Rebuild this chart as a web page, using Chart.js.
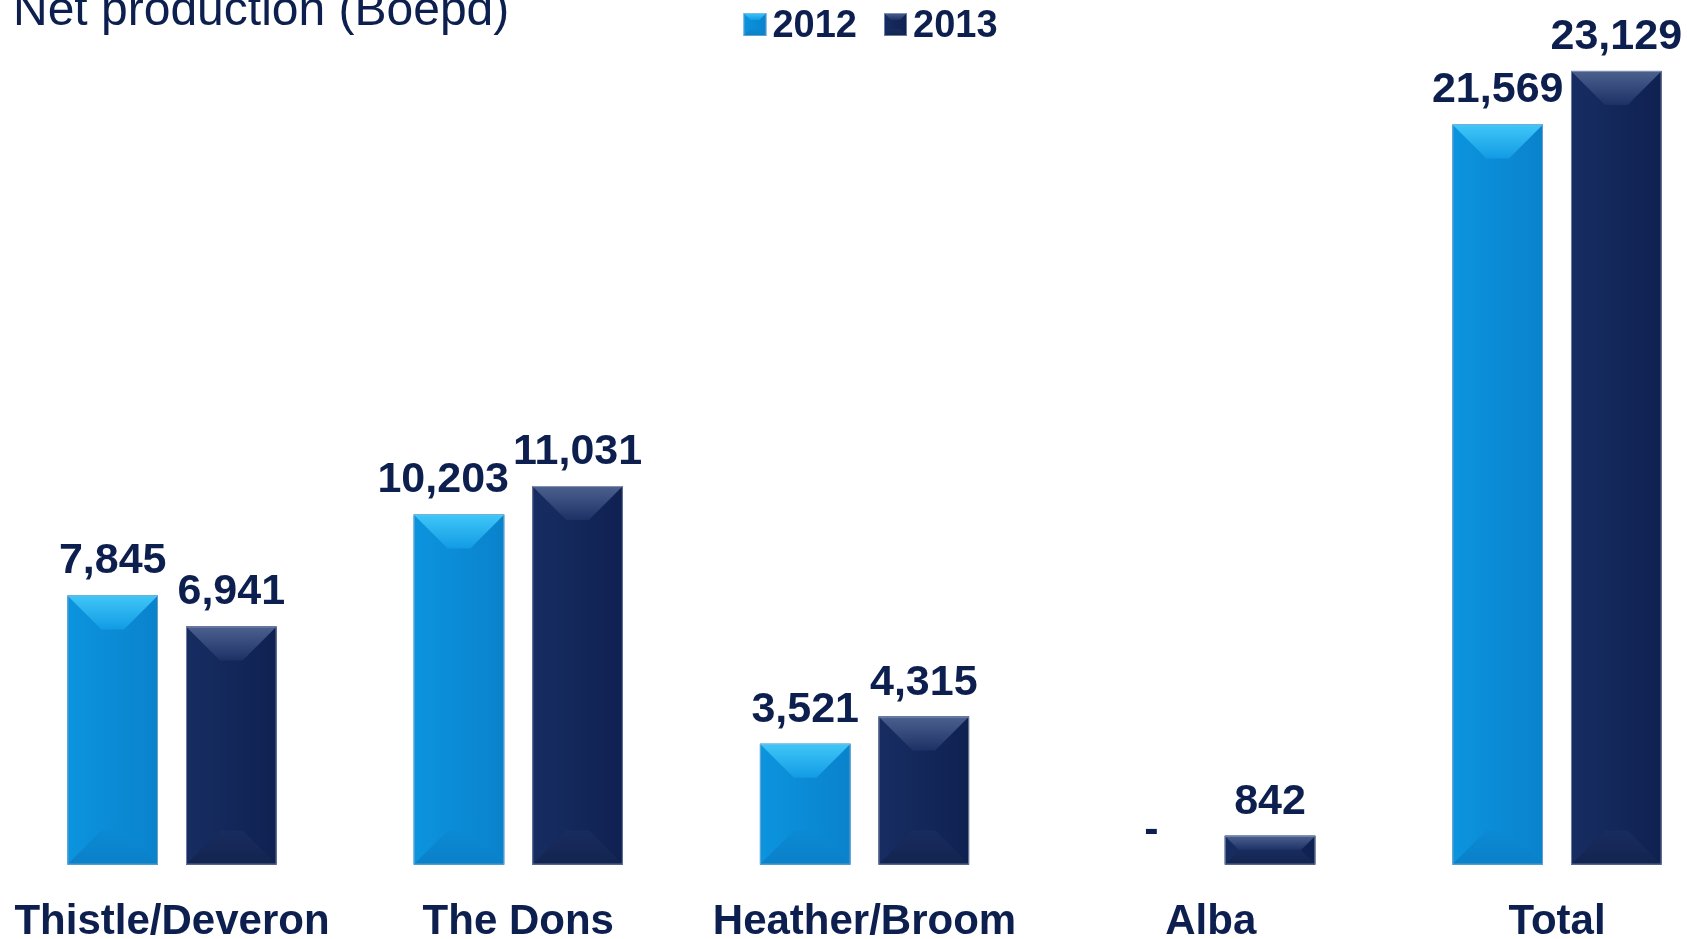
<!DOCTYPE html>
<html>
<head>
<meta charset="utf-8">
<script src="https://cdn.jsdelivr.net/npm/chart.js@4.4.1/dist/chart.umd.min.js"></script>
<style>
  html, body { margin: 0; padding: 0; background: #fff; overflow: hidden; }
  #wrap { position: relative; width: 1687px; height: 939px; }
  #title {
    position: absolute; left: 13px; top: -15px;
    font: 48px "Liberation Sans", Arial, sans-serif; line-height: 48px;
    color: #0d1f4e; white-space: nowrap;
  }
</style>
</head>
<body>
<div id="wrap">
  <canvas id="prodChart"></canvas>
  <div id="title">Net production (Boepd)</div>
</div>
<script>
// --- data ---
const fields = ['Thistle/Deveron', 'The Dons', 'Heather/Broom', 'Alba', 'Total'];
const prod2012 = [7845, 10203, 3521, 0, 21569];
const prod2013 = [6941, 11031, 4315, 842, 23129];

const navy = '#0d1f4e';
const fontFam = '"Liberation Sans", Arial, sans-serif';

// colours for the bevelled bars
const bevel = {
    '2012': { main: '#0b8ad6', faceL: '#0c94de', faceR: '#0a82cc',
              topA: '#40c7f8', topB: '#129be4', botA: '#0b8ad4', botB: '#0a80c8' },
    '2013': { main: '#13275a', faceL: '#172d62', faceR: '#0f2151',
              topA: '#4d6190', topB: '#1d3165', botA: '#182c5e', botB: '#12244f' }
};

function fmt(v) {
    return v === 0 ? '-' : v.toLocaleString('en-US');
}

function drawBevel(ctx, c, L, T, R, B, depth) {
    const h = B - T;
    const d = Math.min(depth, h / 2, (R - L) / 2);
    const poly = (pts, fill) => {
        ctx.beginPath();
        ctx.moveTo(pts[0][0], pts[0][1]);
        for (let i = 1; i < pts.length; i++) ctx.lineTo(pts[i][0], pts[i][1]);
        ctx.closePath();
        ctx.fillStyle = fill;
        ctx.fill();
    };
    ctx.save();
    let g = ctx.createLinearGradient(L, 0, R, 0);
    g.addColorStop(0, c.faceL);
    g.addColorStop(1, c.faceR);
    ctx.fillStyle = g;
    ctx.fillRect(L, T, R - L, h);
    g = ctx.createLinearGradient(0, T, 0, T + d);
    g.addColorStop(0, c.topA);
    g.addColorStop(1, c.topB);
    poly([[L, T], [R, T], [R - d, T + d], [L + d, T + d]], g);
    g = ctx.createLinearGradient(0, B - d, 0, B);
    g.addColorStop(0, c.botA);
    g.addColorStop(1, c.botB);
    poly([[L, B], [R, B], [R - d, B - d], [L + d, B - d]], g);
    ctx.strokeStyle = 'rgba(165,180,205,0.6)';
    ctx.lineWidth = 1;
    ctx.strokeRect(L + 0.5, T + 0.5, R - L - 1, h - 1);
    ctx.restore();
}

// draws the 3D bevel look on top of the plain bars
const bevelPlugin = {
    id: 'bevel',
    afterDatasetsDraw(chart) {
        chart.data.datasets.forEach((ds, di) => {
            const c = bevel[ds.label];
            chart.getDatasetMeta(di).data.forEach(bar => {
                if (bar.base - bar.y <= 0.5) return;
                drawBevel(chart.ctx, c, bar.x - bar.width / 2, bar.y, bar.x + bar.width / 2, bar.base, 34);
            });
        });
    }
};

// legend drawn by hand so the box/text spacing matches
const legendPlugin = {
    id: 'miniLegend',
    afterDraw(chart) {
        const ctx = chart.ctx;
        const area = chart.chartArea;
        ctx.save();
        ctx.font = 'bold 38px ' + fontFam;
        ctx.textBaseline = 'alphabetic';
        ctx.textAlign = 'left';
        const box = 23, gap = 6, itemGap = 27;
        const items = chart.data.datasets.map(ds => ({ label: ds.label, w: ctx.measureText(ds.label).width }));
        const total = items.reduce((s, it) => s + box + gap + it.w, 0) + itemGap * (items.length - 1);
        let x = (area.left + area.right) / 2 - total / 2 + 6;
        items.forEach(it => {
            drawBevel(ctx, bevel[it.label], x, 13, x + box, 13 + box, 7);
            ctx.fillStyle = navy;
            ctx.fillText(it.label, x + box + gap, 37);
            x += box + gap + it.w + itemGap;
        });
        ctx.restore();
    }
};

// value labels above each bar
const valueLabels = {
    id: 'valueLabels',
    afterDraw(chart) {
        const ctx = chart.ctx;
        ctx.save();
        ctx.font = 'bold 43px ' + fontFam;
        ctx.fillStyle = navy;
        ctx.textAlign = 'center';
        ctx.textBaseline = 'alphabetic';
        const m0 = chart.getDatasetMeta(0).data;
        const m1 = chart.getDatasetMeta(1).data;
        m0.forEach((b0, i) => {
            const b1 = m1[i];
            const t0 = fmt(prod2012[i]), t1 = fmt(prod2013[i]);
            const w0 = ctx.measureText(t0).width, w1 = ctx.measureText(t1).width;
            const y0 = b0.y - 22, y1 = b1.y - 22;
            let x0 = b0.x;
            // nudge the 2012 label left if it would run into the 2013 one
            const overlap = (x0 + w0 / 2) - (b1.x - w1 / 2) + 4;
            if (overlap > 0 && Math.abs(y0 - y1) < 45) x0 -= overlap;
            ctx.fillText(t0, x0, y0);
            ctx.fillText(t1, b1.x, y1);
        });
        ctx.restore();
    }
};

new Chart(document.getElementById('prodChart'), {
    type: 'bar',
    data: {
        labels: fields,
        datasets: [
            { label: '2012', data: prod2012, backgroundColor: bevel['2012'].main },
            { label: '2013', data: prod2013, backgroundColor: bevel['2013'].main }
        ]
    },
    options: {
        responsive: true,
        maintainAspectRatio: false,
        animation: false,
        events: [],
        categoryPercentage: 0.685,
        barPercentage: 0.764,
        datasets: { bar: { clip: false, borderWidth: 0 } },
        layout: { padding: { left: 172, right: 130, top: 41, bottom: -42 } },
        plugins: {
            tooltip: { enabled: false },
            legend: { display: false }
        },
        scales: {
            x: {
                offset: false,
                grid: { display: false, drawTicks: false },
                border: { display: false },
                ticks: {
                    color: navy, padding: 33, autoSkip: false, maxRotation: 0,
                    font: { family: fontFam, size: 42, weight: 'bold' }
                },
                // keep the first/last tick labels from pushing the plot inwards
                afterFit(scale) {
                    scale.paddingLeft = 0;
                    scale.paddingRight = 0;
                }
            },
            y: { display: false, min: 0, max: 24000 }
        }
    },
    plugins: [bevelPlugin, valueLabels, legendPlugin]
});
</script>
</body>
</html>
